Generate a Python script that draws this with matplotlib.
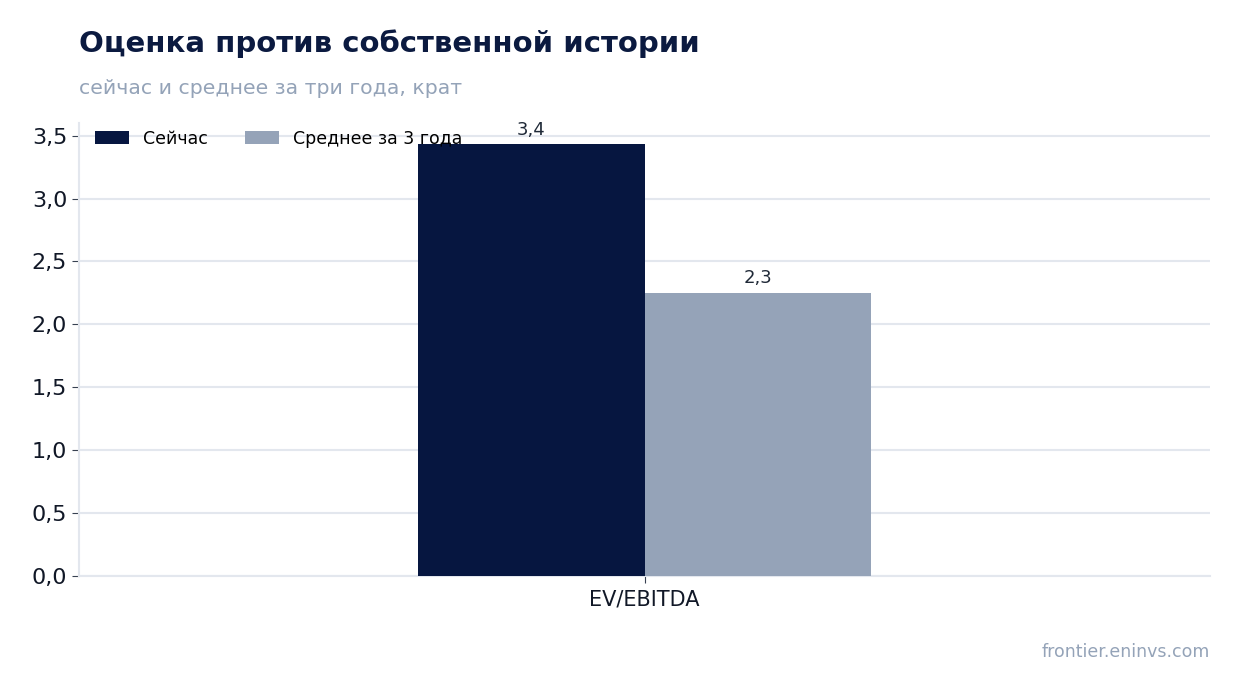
import numpy as np
import matplotlib.pyplot as plt

categories = ['EV/EBITDA']
series_names = ['Сейчас', 'Среднее за 3 года']
now_values = [3.43]
avg_values = [2.25]
value_labels_now = ['3,4']
value_labels_avg = ['2,3']
y_ticks = [0.0, 0.5, 1.0, 1.5, 2.0, 2.5, 3.0, 3.5]
y_tick_labels = ['0,0', '0,5', '1,0', '1,5', '2,0', '2,5', '3,0', '3,5']

NAVY = '#061640'
GRAY = '#95a3b8'
GRID = '#e3e7ee'


def main():
    fig = plt.figure(figsize=(12.41, 6.93), dpi=100)
    ax = fig.add_axes([79 / 1241, 1 - 576 / 693, (1210 - 79) / 1241, (576 - 123) / 693])

    x = np.arange(len(categories))
    width = 0.2
    b1 = ax.bar(x - width / 2, now_values, width, color=NAVY, label=series_names[0], zorder=3)
    b2 = ax.bar(x + width / 2, avg_values, width, color=GRAY, label=series_names[1], zorder=3)
    ax.bar_label(b1, labels=value_labels_now, padding=4, fontsize=13, color='#1f2937')
    ax.bar_label(b2, labels=value_labels_avg, padding=4, fontsize=13, color='#1f2937')

    ax.set_xlim(-0.5, 0.5)
    ax.set_ylim(0, 3.6)
    ax.set_xticks(x)
    ax.set_xticklabels(categories, fontsize=15, color='#111827')
    ax.set_yticks(y_ticks)
    ax.set_yticklabels(y_tick_labels, fontsize=16, color='#111827')
    ax.tick_params(axis='both', length=5, color='#374151')
    ax.tick_params(axis='x', pad=5)
    ax.yaxis.grid(True, color=GRID, linewidth=1.5, zorder=0)
    ax.set_axisbelow(True)
    for side in ['top', 'right']:
        ax.spines[side].set_visible(False)
    for side in ['left', 'bottom']:
        ax.spines[side].set_color(GRID)
        ax.spines[side].set_linewidth(1.5)

    ax.legend(loc='upper left', ncol=2, frameon=False, fontsize=12.5,
              bbox_to_anchor=(0.0, 1.02), handlelength=2.0, handleheight=0.7,
              columnspacing=2.1)

    fig.text(79 / 1241, 1 - 44 / 693, 'Оценка против собственной истории',
             fontsize=21, fontweight='bold', color='#0b1a40', va='center')
    fig.text(79 / 1241, 1 - 88 / 693, 'сейчас и среднее за три года, крат',
             fontsize=14.7, color='#94a3b8', va='center')
    fig.text(1210 / 1241, 1 - 652 / 693, 'frontier.eninvs.com',
             fontsize=12.5, color='#94a3b8', ha='right', va='center')

    fig.savefig('out.png', dpi=100)


if __name__ == "__main__":
    main()
